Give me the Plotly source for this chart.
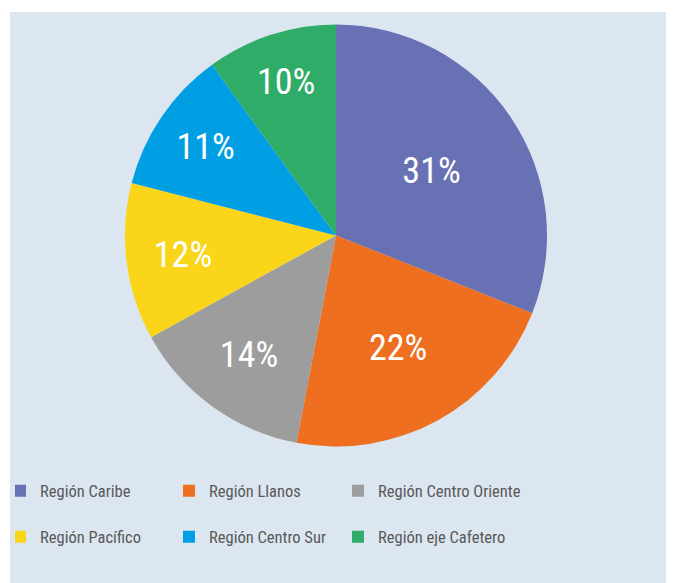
import plotly.graph_objects as go

labels = ["Región Caribe", "Región Llanos", "Región Centro Oriente",
          "Región Pacífico", "Región Centro Sur", "Región eje Cafetero"]
values = [31, 22, 14, 12, 11, 10]
colors = ["#6771b3", "#ee6f1f", "#9d9d9d", "#fad519", "#009fe3", "#2fac67"]

W, H = 674, 583
MR = 20                  # right margin, keeps the legend at three entries per row
PW = W - MR              # plot-area width
FONT = "Roboto Condensed, Liberation Sans Narrow, sans-serif"

# legend entries: a blank second line gives the taller row spacing of the reference
legend_labels = [lab + "<br> " for lab in labels]

R = 211              # pie radius in px
CX, CY = 328, 227.5  # pie centre in figure px (from top-left)

fig = go.Figure(go.Pie(
    labels=legend_labels,
    values=values,
    customdata=labels,
    sort=False,
    direction="clockwise",
    rotation=0,
    marker=dict(colors=colors, line=dict(width=0)),
    texttemplate="%{percent:.0%}",
    textposition="inside",
    insidetextorientation="horizontal",
    textfont=dict(family=FONT, size=36, color="white"),
    hovertemplate="%{customdata}: %{percent:.0%}<extra></extra>",
    domain=dict(x=[(CX - R) / PW, (CX + R) / PW],
                y=[1 - (CY + R) / H, 1 - (CY - R) / H]),
))

fig.add_shape(type="rect", xref="paper", yref="paper",
              x0=2 / PW, x1=1.1, y0=-0.05, y1=1 - 4 / H,
              fillcolor="#dce6f0", line=dict(width=0), layer="below")

fig.update_layout(
    width=W, height=H,
    margin=dict(l=0, r=MR, t=0, b=0, autoexpand=False),
    paper_bgcolor="white",
    plot_bgcolor="white",
    showlegend=True,
    legend=dict(
        orientation="h",
        x=7 / PW, xanchor="left",
        y=1 - 465.5 / H, yanchor="top",
        entrywidth=139, entrywidthmode="pixels",
        indentation=-15,
        valign="top",
        font=dict(family=FONT, size=16.5, color="#595959"),
        bgcolor="rgba(0,0,0,0)",
        traceorder="normal",
    ),
)

fig.write_html("out.html")
